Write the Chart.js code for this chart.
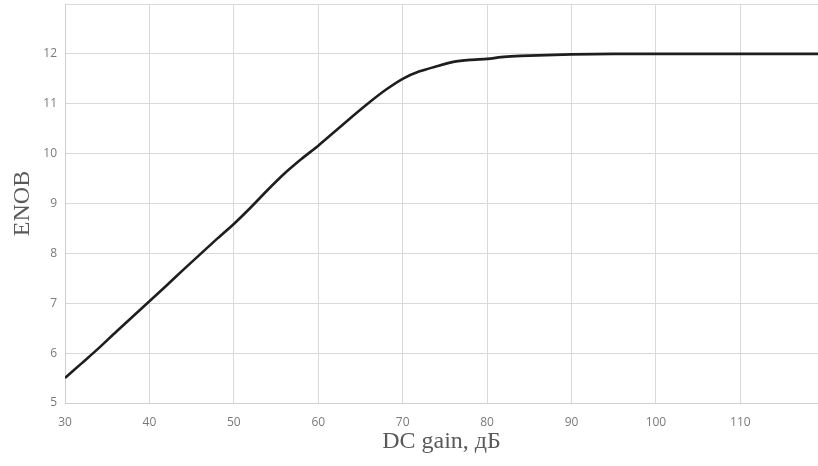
<!DOCTYPE html>
<html>
<head>
<meta charset="utf-8">
<script src="https://cdn.jsdelivr.net/npm/chart.js@4/dist/chart.umd.min.js"></script>
<style>
  html, body { margin: 0; padding: 0; background: #fff; }
  #wrap { width: 818px; height: 466px; }
</style>
</head>
<body>
<div id="wrap"><canvas id="enobChart" width="818" height="466"></canvas></div>
<script>
// DC gain, dB
const gainDb = [30, 32, 34, 36, 38, 40, 42, 44, 46, 48, 50, 52, 54, 56, 58, 60, 62, 64, 66, 68,
  70, 72, 74, 76, 78, 80, 82, 84, 86, 88, 90, 95, 100, 105, 110, 115, 119.2];
// ENOB
const enob = [5.5, 5.8, 6.1, 6.42, 6.73, 7.04, 7.35, 7.67, 7.98, 8.29, 8.59, 8.92, 9.27, 9.6, 9.89, 10.16,
  10.45, 10.74, 11.02, 11.28, 11.5, 11.65, 11.75, 11.84, 11.88, 11.9, 11.94, 11.96, 11.97, 11.98,
  11.99, 12.0, 12.0, 12.0, 12.0, 12.0, 12.0];

const xTicks = [30, 40, 50, 60, 70, 80, 90, 100, 110];
const yTicks = [5, 6, 7, 8, 9, 10, 11, 12, 13];

const points = gainDb.map((g, i) => ({ x: g, y: enob[i] }));

const tickFont = { family: "'Open Sans', 'Liberation Sans', sans-serif", size: 12 };
const titleFont = { family: "'Liberation Serif', 'DejaVu Serif', serif", size: 24 };

new Chart(document.getElementById("enobChart"), {
  type: "scatter",
  data: {
    datasets: [
      {
        data: points,
        showLine: true,
        borderColor: "#1e1e1e",
        borderWidth: 2.6,
        pointRadius: 0,
        tension: 0.2,
      },
    ],
  },
  options: {
    responsive: false,
    animation: false,
    layout: { padding: { top: 4, right: 0, left: 0, bottom: 0 } },
    plugins: { legend: { display: false }, tooltip: { enabled: false } },
    scales: {
      x: {
        type: "linear",
        min: 30,
        max: 119.2,
        afterBuildTicks: (axis) => {
          axis.ticks = xTicks.map((v) => ({ value: v }));
        },
        afterFit: (axis) => {
          axis.height = 63;
          axis.paddingLeft = 0;
          axis.paddingRight = 0;
        },
        grid: { color: "#d9d9d9", lineWidth: 1, drawTicks: false },
        border: { color: "#cfcfcf" },
        ticks: { font: tickFont, color: "#7a7a7a", padding: 12, maxRotation: 0 },
        title: {
          display: true,
          text: "DC gain, дБ",
          font: titleFont,
          color: "#5a5a5a",
          padding: { top: 0, bottom: 10 },
        },
      },
      y: {
        min: 5,
        max: 13,
        afterBuildTicks: (axis) => {
          axis.ticks = yTicks.map((v) => ({ value: v }));
        },
        afterFit: (axis) => {
          axis.width = 65;
          axis.paddingTop = 0;
          axis.paddingBottom = 0;
        },
        grid: { color: "#d9d9d9", lineWidth: 1, drawTicks: false },
        border: { color: "#cfcfcf" },
        ticks: {
          font: tickFont,
          color: "#7a7a7a",
          padding: 8,
          callback: (v) => (v === 13 ? "" : v),
        },
        title: {
          display: true,
          text: "ENOB",
          font: titleFont,
          color: "#5a5a5a",
          padding: { top: 8, bottom: 4 },
        },
      },
    },
  },
});
</script>
</body>
</html>
